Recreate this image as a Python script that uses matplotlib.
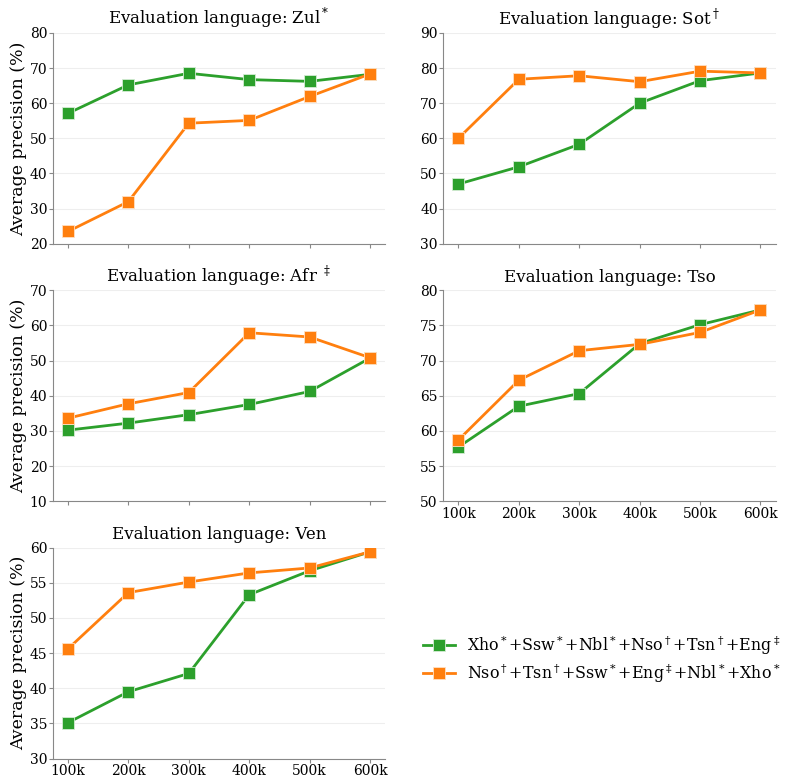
import matplotlib
matplotlib.use("Agg")
from matplotlib import pyplot as plt

plt.rcParams['font.family'] = 'DejaVu Serif'
plt.rcParams['mathtext.fontset'] = 'dejavuserif'

sizes = ["100k", "200k", "300k", "400k", "500k", "600k"]

titles = [r"Evaluation language: Zul$^*$",
          r"Evaluation language: Sot$^\dagger$",
          r"Evaluation language: Afr $^\ddagger$",
          "Evaluation language: Tso",
          "Evaluation language: Ven"]

# first training order (green)
green = [
    [57.1, 65.2, 68.5, 66.7, 66.2, 68.2],
    [47.0, 51.9, 58.3, 70.0, 76.4, 78.6],
    [30.2, 32.2, 34.6, 37.5, 41.2, 50.7],
    [57.7, 63.5, 65.3, 72.4, 75.1, 77.2],
    [35.1, 39.5, 42.1, 53.3, 56.7, 59.4],
]
# second training order (orange)
orange = [
    [23.5, 32.0, 54.3, 55.1, 61.9, 68.3],
    [60.0, 76.8, 77.8, 76.1, 79.1, 78.6],
    [33.6, 37.7, 40.9, 57.9, 56.7, 50.8],
    [58.7, 67.2, 71.4, 72.3, 74.0, 77.2],
    [45.6, 53.6, 55.1, 56.4, 57.1, 59.4],
]
ylims = [(20, 80), (30, 90), (10, 70), (50, 80), (30, 60)]
ysteps = [10, 10, 10, 5, 5]

label_g = r"Xho$^*$+Ssw$^*$+Nbl$^*$+Nso$^\dagger$+Tsn$^\dagger$+Eng$^\ddagger$"
label_o = r"Nso$^\dagger$+Tsn$^\dagger$+Ssw$^*$+Eng$^\ddagger$+Nbl$^*$+Xho$^*$"

fig, axes = plt.subplots(3, 2, figsize=(7.89, 7.82), dpi=100)
plt.subplots_adjust(left=0.067, right=0.983, top=0.958, bottom=0.03,
                    hspace=0.22, wspace=0.175)
axes = axes.flatten()

x = list(range(len(sizes)))
for i in range(5):
    ax = axes[i]
    lg, = ax.plot(x, green[i], color="#2ca02c", marker="s", markersize=8.5,
                  mec="#d5ecd5", mew=0.6, lw=2, label=label_g)
    lo, = ax.plot(x, orange[i], color="#ff7f0e", marker="s", markersize=8.5,
                  mec="#ffe0c4", mew=0.6, lw=2, label=label_o)
    ax.set_title(titles[i], fontsize=12)
    lo_, hi_ = ylims[i]
    ax.set_ylim(lo_, hi_)
    ax.set_yticks(list(range(lo_, hi_ + 1, ysteps[i])))
    ax.set_xlim(-0.25, 5.25)
    ax.set_xticks(x)
    if i in (3, 4):
        ax.set_xticklabels(sizes)
    else:
        ax.set_xticklabels([])
        ax.tick_params(axis="x", length=0)
    ax.grid(axis="y", color="#eeeeee", lw=0.8)
    ax.set_axisbelow(True)
    for s in ("top", "right"):
        ax.spines[s].set_visible(False)
    for s in ("left", "bottom"):
        ax.spines[s].set_color("#888888")
    ax.tick_params(axis="both", labelsize=10, color="#888888", length=3, pad=1)
    if i % 2 == 0:
        ax.set_ylabel("Average precision (%)", fontsize=12.5, labelpad=2)

axes[5].axis("off")
fig.legend(handles=[lg, lo], loc="center left", frameon=False, fontsize=11.4,
           handlelength=2, borderaxespad=0, borderpad=0, labelspacing=0.3,
           bbox_to_anchor=(0.536, 0.157))

plt.savefig("out.png", dpi=100)
